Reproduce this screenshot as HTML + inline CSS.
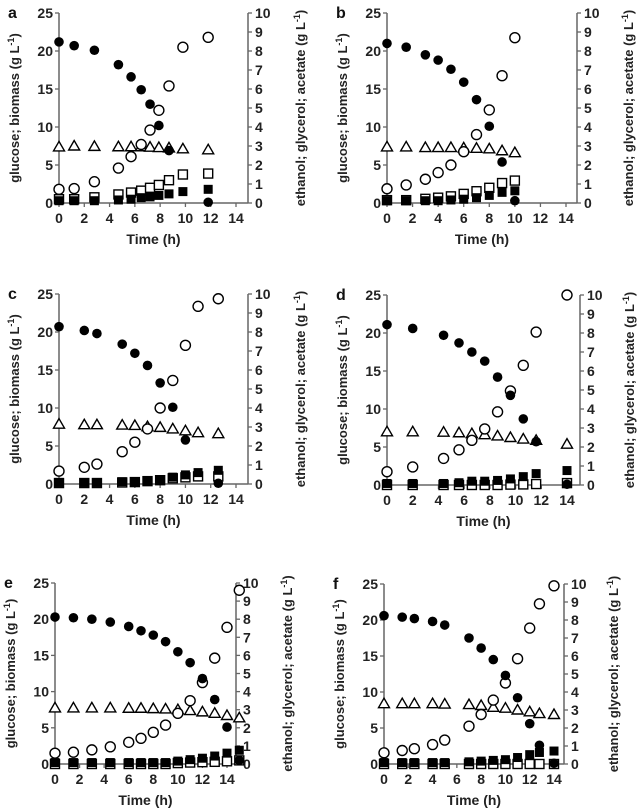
<!DOCTYPE html>
<html><head><meta charset="utf-8">
<style>
html,body{margin:0;padding:0;background:#fff;}
svg{display:block;font-family:"Liberation Sans",Arial,sans-serif;}
</style></head>
<body>
<svg id="fig" width="638" height="811" viewBox="0 0 638 811" xmlns="http://www.w3.org/2000/svg"></svg>
<script>
// ---- data (glucose & biomass on left axis; ethanol, glycerol, acetate on right axis) ----
const aT=[0,1.2,2.8,4.7,5.7,6.5,7.2,7.9,8.7,9.8,11.8];
const aGlucose=[21.2,20.7,20.1,18.2,16.6,14.9,13,10.2,6.9,null,0.1];
const aEthanol=[0.72,0.76,1.12,1.84,2.44,3.08,3.84,4.88,6.16,8.2,8.72];
const aGlycerol=[2.95,3.0,2.98,2.96,2.96,2.96,2.94,2.92,2.9,2.85,2.8];
const aBiomass=[0.3,0.3,0.3,0.4,0.5,0.7,0.8,1.0,1.2,1.5,1.8];
const aAcetate=[0.2,0.2,0.3,0.45,0.55,0.65,0.8,0.95,1.2,1.5,1.55];

const bT=[0,1.5,3,4,5,6,7,8,9,10];
const bGlucose=[21,20.5,19.5,18.8,17.6,15.9,13.6,10.1,5.4,0.3];
const bEthanol=[0.75,0.95,1.25,1.6,2.0,2.7,3.6,4.9,6.7,8.7];
const bGlycerol=[2.95,2.95,2.92,2.92,2.92,2.9,2.88,2.85,2.75,2.65];
const bBiomass=[0.3,0.3,0.3,0.3,0.4,0.5,0.7,1.0,1.4,1.6];
const bAcetate=[0.15,0.15,0.22,0.28,0.35,0.48,0.62,0.8,1.05,1.18];

const cT=[0,2,3,5,6,7,8,9,10,11,12.6];
const cGlucose=[20.7,20.2,19.8,18.4,17.2,15.6,13.3,10.1,5.8,null,0.1];
const cEthanol=[0.68,0.88,1.05,1.7,2.2,2.9,4.0,5.45,7.3,9.35,9.75];
const cGlycerol=[3.15,3.12,3.12,3.1,3.08,3.02,2.98,2.9,2.8,2.7,2.65];
const cBiomass=[0.2,0.2,0.2,0.3,0.3,0.4,0.5,0.9,1.2,1.5,1.8];
const cAcetate=[0.05,0.05,0.05,0.08,0.1,0.15,0.2,0.3,0.35,0.4,0.4];

const dT=[0,2,4.4,5.6,6.6,7.6,8.6,9.6,10.6,11.6,14];
const dGlucose=[21.1,20.6,19.7,18.7,17.5,16.3,14.2,11.8,8.7,5.7,0.1];
const dEthanol=[0.7,0.95,1.4,1.85,2.35,2.95,3.85,4.95,6.3,8.05,10.0];
const dGlycerol=[2.8,2.8,2.78,2.75,2.7,2.65,2.58,2.5,2.42,2.35,2.15];
const dBiomass=[0.2,0.2,0.2,0.3,0.5,0.5,0.6,0.8,1.1,1.5,1.9];
const dAcetate=[0,0,0,0,0,0,0,0.02,0.03,0.05,0.1];

const eT=[0,1.5,3,4.5,6,7,8,9,10,11,12,13,14,15];
const eGlucose=[20.3,20.2,20.0,19.6,19.0,18.4,17.8,16.9,15.5,14.0,11.8,8.9,5.1,0.5];
const eEthanol=[0.6,0.65,0.78,0.95,1.2,1.42,1.75,2.15,2.8,3.5,4.5,5.85,7.55,9.6];
const eGlycerol=[3.1,3.1,3.1,3.1,3.08,3.08,3.06,3.04,3.0,2.95,2.88,2.8,2.68,2.55];
const eBiomass=[0.2,0.2,0.2,0.2,0.2,0.2,0.2,0.2,0.4,0.6,0.8,1.1,1.5,1.9];
const eAcetate=[0,0,0,0,0,0,0,0,0.05,0.08,0.1,0.12,0.15,0.2];

const fT=[0,1.5,2.5,4,5,7,8,9,10,11,12,12.8,14];
const fGlucose=[20.6,20.4,20.2,19.8,19.3,17.5,16.1,14.5,12.3,9.2,5.6,2.6,0.1];
const fEthanol=[0.62,0.75,0.85,1.08,1.33,2.1,2.75,3.55,4.5,5.85,7.55,8.9,9.9];
const fGlycerol=[3.35,3.35,3.35,3.35,3.33,3.3,3.25,3.15,3.1,3.0,2.9,2.8,2.75];
const fBiomass=[0.2,0.2,0.2,0.2,0.2,0.3,0.4,0.5,0.6,0.9,1.3,1.6,1.8];
const fAcetate=[0,0,0,0,0,0,0,0,0,0,0,0,0];

const leftTicks=[0,5,10,15,20,25];
const rightTicks=[0,1,2,3,4,5,6,7,8,9,10];
const xTicks=[0,2,4,6,8,10,12,14];

const panels=[
 {id:'a',x0:59,x14:236,xr:248,yt:13,yb:203,rl:57,t:aT,g:aGlucose,e:aEthanol,gl:aGlycerol,bm:aBiomass,ac:aAcetate},
 {id:'b',x0:387,x14:566,xr:577,yt:13,yb:203,rl:56,t:bT,g:bGlucose,e:bEthanol,gl:bGlycerol,bm:bBiomass,ac:bAcetate},
 {id:'c',x0:59,x14:236,xr:248,yt:294,yb:484,rl:57,t:cT,g:cGlucose,e:cEthanol,gl:cGlycerol,bm:cBiomass,ac:cAcetate},
 {id:'d',x0:387,x14:567,xr:580,yt:295,yb:485,rl:54,t:dT,g:dGlucose,e:dEthanol,gl:dGlycerol,bm:dBiomass,ac:dAcetate},
 {id:'e',x0:55,x14:227,xr:236,yt:583,yb:764,rl:56,t:eT,g:eGlucose,e:eEthanol,gl:eGlycerol,bm:eBiomass,ac:eAcetate},
 {id:'f',x0:384,x14:554,xr:564,yt:584,yb:764,rl:54,t:fT,g:fGlucose,e:fEthanol,gl:fGlycerol,bm:fBiomass,ac:fAcetate}
];

const NS='http://www.w3.org/2000/svg';
const svg=document.getElementById('fig');
function mk(tag,attrs,parent,text){const el=document.createElementNS(NS,tag);for(const k in attrs)el.setAttribute(k,attrs[k]);if(text!==undefined)el.textContent=text;parent.appendChild(el);return el;}

panels.forEach(p=>{
  const g=mk('g',{},svg);
  
  
  const xs=v=>p.x0+v*(p.x14-p.x0)/14;
  const yl=v=>p.yb-v*(p.yb-p.yt)/25;
  const yr=v=>p.yb-v*(p.yb-p.yt)/10;
  const ax='#666';
  const la=mk('line',{x1:p.x0,y1:p.yt,x2:p.x0,y2:p.yb,stroke:ax,'stroke-width':1.5},g);
  
  const ra=mk('line',{x1:p.xr,y1:p.yt,x2:p.xr,y2:p.yb,stroke:ax,'stroke-width':1.5},g);
  
  const xa=mk('line',{x1:p.x0,y1:p.yb,x2:p.xr,y2:p.yb,stroke:ax,'stroke-width':1.5},g);
  
  leftTicks.forEach(v=>{
    mk('line',{x1:p.x0-4,y1:yl(v),x2:p.x0,y2:yl(v),stroke:ax,'stroke-width':1.3},g);
    const t=mk('text',{x:p.x0-6,y:yl(v)+5,'text-anchor':'end','font-size':14,'font-weight':'bold',fill:'#222'},g,v);
    
  });
  rightTicks.forEach(v=>{
    mk('line',{x1:p.xr,y1:yr(v),x2:p.xr+4,y2:yr(v),stroke:ax,'stroke-width':1.3},g);
    const t=mk('text',{x:p.xr+7,y:yr(v)+5,'font-size':14,'font-weight':'bold',fill:'#222'},g,v);
    
  });
  xTicks.forEach(v=>{
    mk('line',{x1:xs(v),y1:p.yb,x2:xs(v),y2:p.yb+4,stroke:ax,'stroke-width':1.3},g);
    const t=mk('text',{x:xs(v),y:p.yb+20,'text-anchor':'middle','font-size':14,'font-weight':'bold',fill:'#222'},g,v);
    
  });
  const lt=mk('text',{x:p.x0-51,y:p.yt+5,'font-size':16,'font-weight':'bold',fill:'#111'},g,p.id);
  
  const xt=mk('text',{x:(p.x0+p.xr)/2,y:p.yb+41,'text-anchor':'middle','font-size':14,'font-weight':'bold',fill:'#222'},g,'Time (h)');
  
  const ymid=(p.yt+p.yb)/2;
  const yt1=mk('text',{x:p.x0-40,y:ymid,'text-anchor':'middle','font-size':13,'font-weight':'bold',fill:'#222',transform:`rotate(-90 ${p.x0-40} ${ymid})`},g);
  
  yt1.innerHTML='glucose; biomass (g L<tspan dy="-5" font-size="9">-1</tspan><tspan dy="5">)</tspan>';
  const rx=p.xr+p.rl;
  const yt2=mk('text',{x:rx,y:ymid,'text-anchor':'middle','font-size':13,'font-weight':'bold',fill:'#222',transform:`rotate(-90 ${rx} ${ymid})`},g);
  
  yt2.innerHTML='ethanol; glycerol; acetate (g L<tspan dy="-5" font-size="9">-1</tspan><tspan dy="5">)</tspan>';
  p.t.forEach((tv,i)=>{
    const x=xs(tv);
    if(p.ac[i]!=null){const y=yr(p.ac[i]);const m=mk('rect',{x:x-4.5,y:y-4.5,width:9,height:9,fill:'#fff',stroke:'#000','stroke-width':1.4},g);}
    if(p.bm[i]!=null){const y=yl(p.bm[i]);const m=mk('rect',{x:x-4.5,y:y-4.5,width:9,height:9,fill:'#000'},g);}
    if(p.gl[i]!=null){const y=yr(p.gl[i]);const m=mk('polygon',{points:`${x},${y-5.5} ${x-5.5},${y+4} ${x+5.5},${y+4}`,fill:'#fff',stroke:'#000','stroke-width':1.4},g);}
    if(p.e[i]!=null){const y=yr(p.e[i]);const m=mk('circle',{cx:x,cy:y,r:5,fill:'#fff',stroke:'#000','stroke-width':1.4},g);}
    if(p.g[i]!=null){const y=yl(p.g[i]);const m=mk('circle',{cx:x,cy:y,r:4.8,fill:'#000'},g);}
  });
});
</script>
</body></html>
